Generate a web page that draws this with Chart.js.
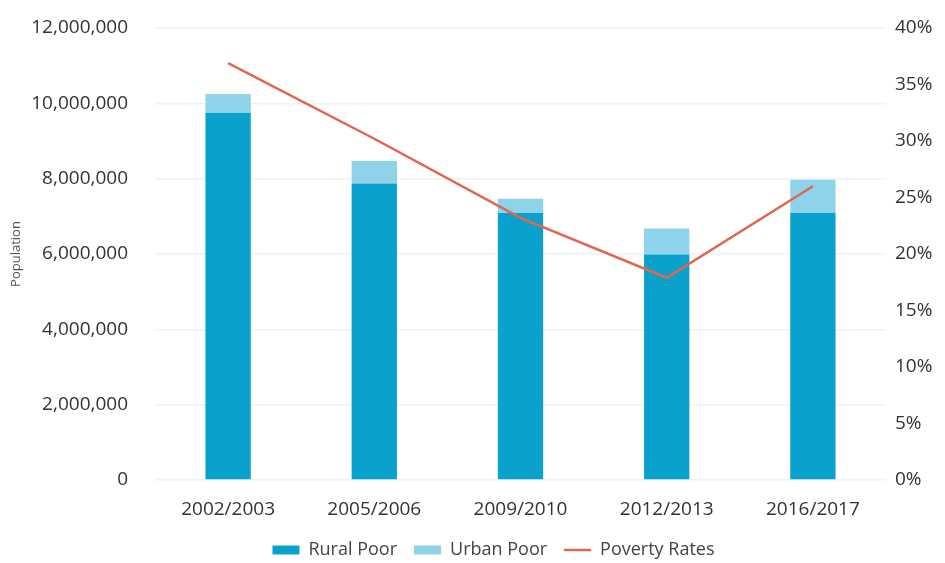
<!DOCTYPE html>
<html>
<head>
<meta charset="utf-8">
<script src="https://cdn.jsdelivr.net/npm/chart.js@4.4.1/dist/chart.umd.min.js"></script>
<style>
  html,body{margin:0;padding:0;background:#fff;}
  #wrap{width:945px;height:563px;position:relative;}
</style>
</head>
<body>
<div id="wrap"><canvas id="c"></canvas></div>
<script>
// values
const years = ['2002/2003','2005/2006','2009/2010','2012/2013','2016/2017'];
const ruralPoor = [9750000, 7870000, 7090000, 5990000, 7090000];
const urbanPoor = [500000, 600000, 380000, 690000, 880000];
const povertyRates = [36.9, 30.2, 23.2, 17.9, 26.0];
const popTicks = [0, 2000000, 4000000, 6000000, 8000000, 10000000, 12000000];
const rateTicks = [0, 5, 10, 15, 20, 25, 30, 35, 40];

const FONT = '"Open Sans", sans-serif';
const TXT = '#444';
const RURAL = '#0aa2cd', URBAN = '#8fd3ea', RED = '#e0664f';

// nudge the legend row to where it sits in the original
const legendShift = {
  id:'legendShift',
  beforeDraw(chart){
    const l = chart.legend;
    if(!l) return;
    l.left += 21; l.right += 21;
    l.top -= 2; l.bottom -= 2;
  }
};

// vertical axes: fixed width, and don't let the tick padding push the plot top down
function fitY(w){ return s=>{ s.width=w; s.paddingTop=12; s.paddingBottom=12; }; }

new Chart(document.getElementById('c'), {
  plugins:[legendShift],
  data: {
    labels: years,
    datasets: [
      {type:'bar', label:'Rural Poor', data:ruralPoor, backgroundColor:RURAL, yAxisID:'y', stack:'p', order:1, pointStyle:'rect', barPercentage:0.31, categoryPercentage:1},
      {type:'bar', label:'Urban Poor', data:urbanPoor, backgroundColor:URBAN, yAxisID:'y', stack:'p', order:1, pointStyle:'rect', barPercentage:0.31, categoryPercentage:1},
      {type:'line', label:'Poverty Rates', data:povertyRates, borderColor:RED, backgroundColor:RED, borderWidth:2.5, pointRadius:0, tension:0, yAxisID:'y1', order:0, pointStyle:'line'}
    ]
  },
  options: {
    responsive:true, maintainAspectRatio:false, animation:false,
    layout:{padding:{left:8, right:8, top:28, bottom:-8}},
    plugins:{
      tooltip:{enabled:false},
      legend:{position:'bottom',
        labels:{usePointStyle:true, pointStyleWidth:27, boxHeight:9, padding:17, color:TXT, font:{family:FONT, size:18},
          sort:(a,b)=>a.datasetIndex-b.datasetIndex}}
    },
    scales:{
      x:{stacked:true, grid:{display:false}, border:{display:false},
        afterFit:s=>{s.height=46;},
        ticks:{color:'#333', font:{family:FONT, size:19}, padding:10}},
      y:{position:'left', stacked:true, min:0, max:12000000,
        afterBuildTicks:s=>{s.ticks=popTicks.map(v=>({value:v}));},
        afterFit:fitY(147),
        grid:{color:'#edf2f4', lineWidth:1.5, drawTicks:false}, border:{display:false},
        title:{display:true, text:'Population', color:'#555', font:{family:FONT, size:13}, padding:0},
        ticks:{color:'#333', font:{family:FONT, size:19}, padding:27, callback:v=>v.toLocaleString('en-US')}},
      y1:{position:'right', min:0, max:40,
        afterBuildTicks:s=>{s.ticks=rateTicks.map(v=>({value:v}));},
        afterFit:fitY(51),
        grid:{display:false}, border:{display:false},
        ticks:{color:'#333', font:{family:FONT, size:19}, padding:1, callback:v=>v+'%'}}
    }
  }
});
</script>
</body>
</html>
